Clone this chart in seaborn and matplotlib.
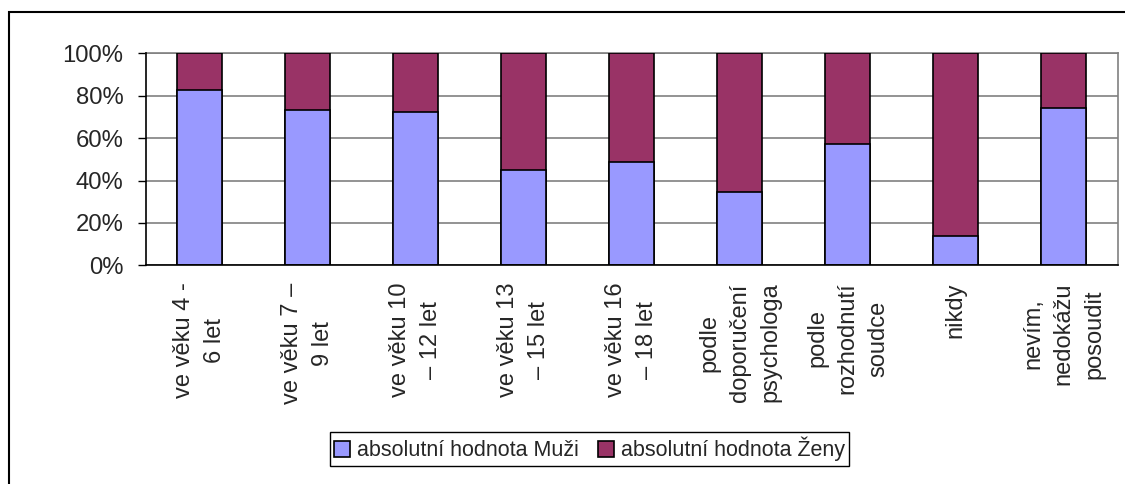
import numpy as np
import pandas as pd
import seaborn as sns
import matplotlib.pyplot as plt
from matplotlib.patches import Patch, Rectangle

# %%
categories = ["ve věku 4 -\n6 let", "ve věku 7 –\n9 let", "ve věku 10\n– 12 let",
              "ve věku 13\n– 15 let", "ve věku 16\n– 18 let",
              "podle\ndoporučení\npsychologa", "podle\nrozhodnutí\nsoudce",
              "nikdy", "nevím,\nnedokážu\nposoudit"]
muzi = [82.8, 73.3, 72.5, 45.0, 48.8, 34.6, 57.3, 13.8, 74.3]
zeny = [17.2, 26.7, 27.5, 55.0, 51.2, 65.4, 42.7, 86.2, 25.7]
series_names = ["absolutní hodnota Muži", "absolutní hodnota Ženy"]
y_ticks = [0, 20, 40, 60, 80, 100]

col_muzi = "#9999FF"
col_zeny = "#993366"

# %%
sns.set_style("white")
plt.rcParams['font.family'] = ['Liberation Sans', 'DejaVu Sans']

df = pd.DataFrame({"cat": categories, "muzi": muzi, "zeny": zeny})
df["top"] = df["muzi"] + df["zeny"]

fig = plt.figure(figsize=(11.25, 4.84), dpi=100)
ax = fig.add_axes([0.1295, 0.4519, 0.864, 0.4376])

sns.barplot(data=df, x="cat", y="top", color=col_zeny, saturation=1, width=0.42,
            edgecolor="black", linewidth=1.2, ax=ax, zorder=3)
sns.barplot(data=df, x="cat", y="muzi", color=col_muzi, saturation=1, width=0.42,
            edgecolor="black", linewidth=1.2, ax=ax, zorder=3)

ax.set_xlim(-0.5, len(categories) - 0.5)
ax.set_ylim(0, 100)
ax.set_yticks(y_ticks)
ax.set_yticklabels(["{}%".format(t) for t in y_ticks], fontsize=17.2)
ax.set_xlabel("")
ax.set_ylabel("")

ax.set_xticks(range(len(categories)))
ax.set_xticklabels(categories, rotation=90, ha="center", va="top",
                   multialignment="center", fontsize=17, linespacing=1.5)
ax.tick_params(axis="x", which="major", length=0, pad=12.5)
ax.set_xticks(np.arange(-0.5, len(categories)), minor=True)
ax.tick_params(axis="x", which="minor", length=6, width=1, direction="out", color="black")
ax.tick_params(axis="y", length=6, width=1, direction="out", pad=10, color="black", left=True)

ax.yaxis.grid(True, color="#808080", linewidth=1.2, zorder=0)
ax.set_axisbelow(True)
for s in ["left", "bottom"]:
    ax.spines[s].set_color("black")
    ax.spines[s].set_linewidth(1.2)
    ax.spines[s].set_zorder(4)
for s in ["top", "right"]:
    ax.spines[s].set_visible(True)
    ax.spines[s].set_color("#808080")
    ax.spines[s].set_linewidth(1.2)

handles = [Patch(facecolor=col_muzi, edgecolor="black", linewidth=1.2),
           Patch(facecolor=col_zeny, edgecolor="black", linewidth=1.2)]
leg = fig.legend(handles, series_names, loc="center", bbox_to_anchor=(0.524, 0.0723),
                 ncol=2, fontsize=15.5, frameon=True, fancybox=False, framealpha=1,
                 edgecolor="black", handlelength=0.75, handleheight=0.75,
                 handletextpad=0.3, columnspacing=0.9, borderpad=0.2,
                 borderaxespad=0)
leg.get_frame().set_linewidth(1.0)

# outer chart frame
fig.patches.append(Rectangle((9 / 1125, -0.2), 1.2, 1.2 - 12 / 484,
                             transform=fig.transFigure, fill=False,
                             edgecolor="black", linewidth=1.5))

fig.savefig("out.png", dpi=100)
